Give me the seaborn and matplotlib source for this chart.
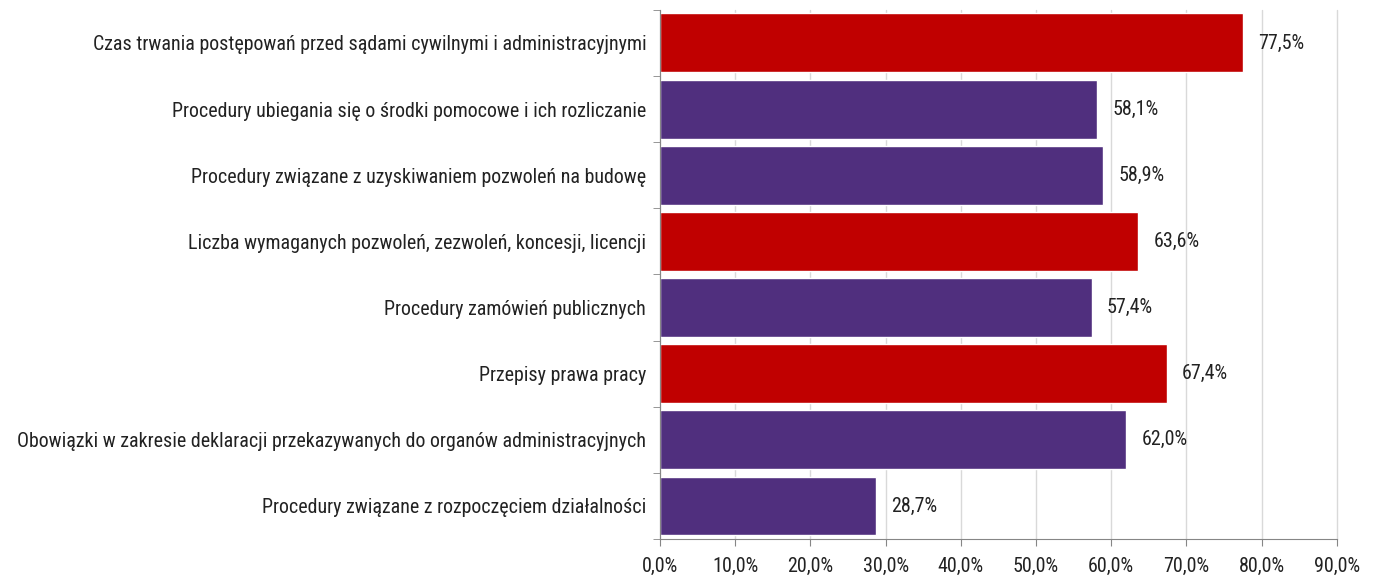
import matplotlib
matplotlib.use("Agg")
import matplotlib.pyplot as plt
import seaborn as sns
import pandas as pd
from matplotlib import font_manager
from matplotlib.ticker import FuncFormatter, MultipleLocator

categories = [
    "Czas trwania postępowań przed sądami cywilnymi i administracyjnymi",
    "Procedury ubiegania się o środki pomocowe i ich rozliczanie",
    "Procedury związane z uzyskiwaniem pozwoleń na budowę",
    "Liczba wymaganych pozwoleń, zezwoleń, koncesji, licencji",
    "Procedury zamówień publicznych",
    "Przepisy prawa pracy",
    "Obowiązki w zakresie deklaracji przekazywanych do organów administracyjnych",
    "Procedury związane z rozpoczęciem działalności",
]
values = [77.5, 58.1, 58.9, 63.6, 57.4, 67.4, 62.0, 28.7]
highlight = ["tak", "nie", "nie", "tak", "nie", "tak", "nie", "nie"]

palette = {"tak": "#C00000", "nie": "#502F7E"}

df = pd.DataFrame({"kategoria": categories, "wartosc": values, "grupa": highlight})

sns.set_style("white")

# narrow font if there is one, otherwise Liberation Sans a bit smaller
installed = {f.name for f in font_manager.fontManager.ttflist}
narrow = [n for n in ["Liberation Sans Narrow", "Arial Narrow", "Roboto Condensed"] if n in installed]
if narrow:
    plt.rcParams["font.family"] = [narrow[0], "DejaVu Sans"]
    fs = 14.4
else:
    plt.rcParams["font.family"] = ["Liberation Sans", "DejaVu Sans"]
    fs = 11.8

fig = plt.figure(figsize=(13.81, 5.79), dpi=100)
ax = fig.add_axes([0.478, 0.069, 0.49, 0.914])

sns.barplot(data=df, y="kategoria", x="wartosc", hue="grupa", palette=palette,
            dodge=False, legend=False, width=0.89, saturation=1, ax=ax)

for c in ax.containers:
    ax.bar_label(c, labels=[f"{v:.1f}%".replace(".", ",") for v in c.datavalues],
                 padding=11, fontsize=fs, color="#222222")

ax.set_xlim(0, 90)
ax.set_ylim(len(categories) - 0.5, -0.5)
ax.xaxis.set_major_locator(MultipleLocator(10))
ax.xaxis.set_major_formatter(FuncFormatter(lambda v, p: f"{v:.1f}%".replace(".", ",")))
ax.grid(axis="x", color="#d9d9d9", linewidth=1)
for gl in ax.get_xgridlines():
    gl.set_clip_on(False)
ax.set_axisbelow(True)
ax.set_xlabel("")
ax.set_ylabel("")

for s in ["top", "right"]:
    ax.spines[s].set_visible(False)
for s in ["left", "bottom"]:
    ax.spines[s].set_color("#868686")

ax.tick_params(axis="x", bottom=True, labelsize=fs, colors="#222222", length=5, color="#868686", pad=8)
ax.tick_params(axis="y", left=False, labelsize=fs, colors="#222222", length=0, pad=10)
# small tick marks between categories on the left axis
ax.set_yticks([i - 0.5 for i in range(len(categories) + 1)], minor=True)
ax.tick_params(axis="y", which="minor", left=True, length=5, color="#868686")

fig.savefig("out.png", dpi=100)
